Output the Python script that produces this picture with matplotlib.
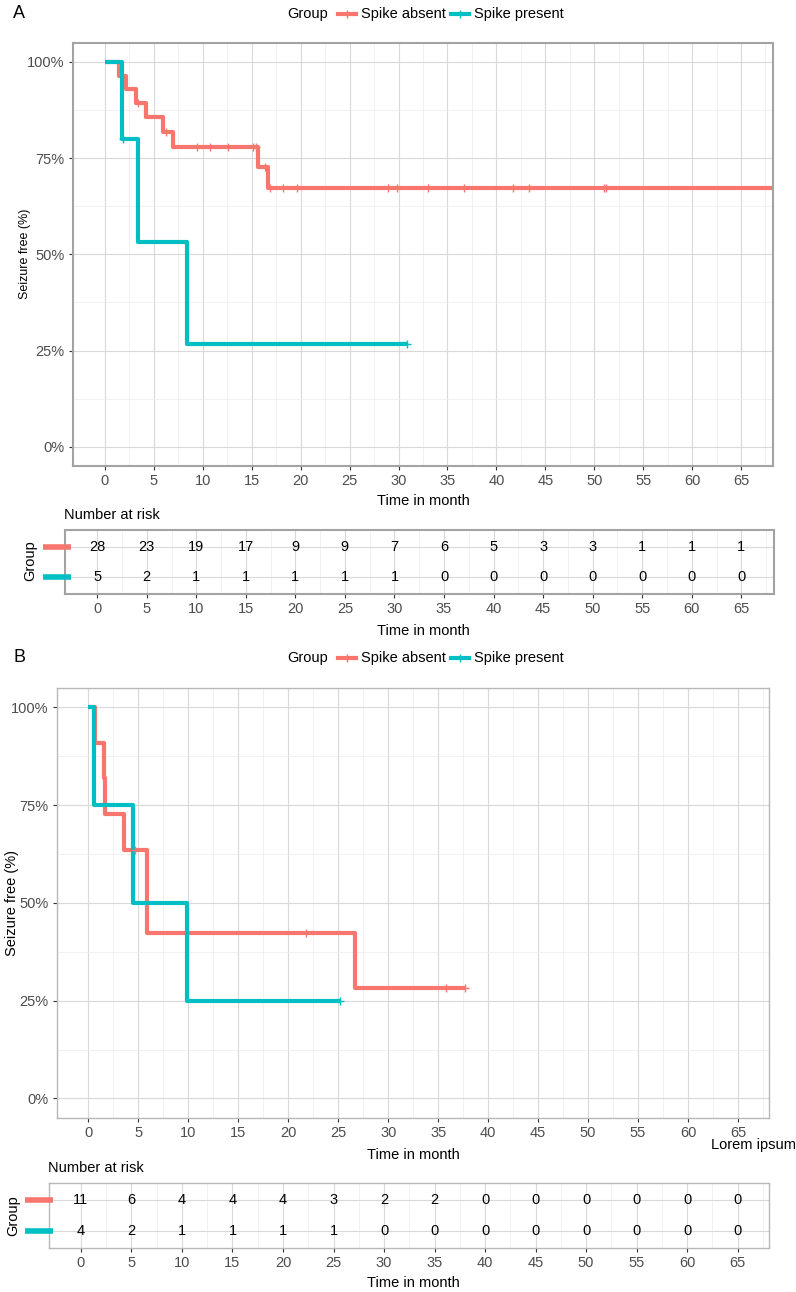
import numpy as np
import matplotlib
matplotlib.use("Agg")
from matplotlib import pyplot as plt
from matplotlib import transforms
from matplotlib.lines import Line2D

plt.rcParams['font.family'] = ['Liberation Sans', 'DejaVu Sans']

W, H = 796, 1292
RED = '#F8766D'
TEAL = '#00BFC4'

# Panel A: Kaplan-Meier steps
a_absent_time = [0, 1.43, 2.1, 3.2, 4.15, 5.9, 6.95, 15.68, 16.7, 68.6]
a_absent_surv = [1.0, 0.964, 0.929, 0.893, 0.856, 0.819, 0.780, 0.728, 0.672, 0.672]
a_absent_cens = [3.35, 6.2, 9.37, 10.74, 12.55, 15.17, 15.44, 16.36, 16.9, 18.2,
                 19.6, 28.9, 29.8, 33.0, 36.7, 41.7, 43.3, 50.95, 51.2, 68.5]
a_present_time = [0, 1.75, 3.4, 8.35, 30.85]
a_present_surv = [1.0, 0.80, 0.533, 0.267, 0.267]
a_present_cens = [1.8, 30.85]

# Panel B
b_absent_time = [0, 0.7, 1.55, 1.7, 3.6, 5.84, 26.7, 37.7]
b_absent_surv = [1.0, 0.909, 0.818, 0.727, 0.636, 0.424, 0.283, 0.283]
b_absent_cens = [4.67, 21.8, 35.8, 37.7]
b_present_time = [0, 0.6, 4.45, 9.9, 25.2]
b_present_surv = [1.0, 0.75, 0.50, 0.25, 0.25]
b_present_cens = [25.2]

# Number at risk tables
risk_times = list(range(0, 70, 5))
a_risk_absent = [28, 23, 19, 17, 9, 9, 7, 6, 5, 3, 3, 1, 1, 1]
a_risk_present = [5, 2, 1, 1, 1, 1, 1, 0, 0, 0, 0, 0, 0, 0]
b_risk_absent = [11, 6, 4, 4, 4, 3, 2, 2, 0, 0, 0, 0, 0, 0]
b_risk_present = [4, 2, 1, 1, 1, 1, 0, 0, 0, 0, 0, 0, 0, 0]

group_labels = ['Spike absent', 'Spike present']
y_ticks = [0, 0.25, 0.5, 0.75, 1.0]
y_tick_labels = ['0%', '25%', '50%', '75%', '100%']


def rect(left, top, right, bottom):
    return [left / W, 1 - bottom / H, (right - left) / W, (bottom - top) / H]


def fx(x):
    return x / W


def fy(y):
    return 1 - y / H


def style_axes(ax, frame_color, frame_lw):
    ax.set_facecolor('white')
    for s in ax.spines.values():
        s.set_color(frame_color)
        s.set_linewidth(frame_lw)
        s.set_zorder(5)
    ax.tick_params(axis='both', colors='#333333', labelcolor='#4D4D4D',
                   labelsize=10.5, length=3, width=0.8, pad=3)
    ax.set_xticks(risk_times)
    ax.set_xticks(np.arange(2.5, 70, 5), minor=True)
    ax.tick_params(which='minor', length=0)
    ax.grid(which='major', color='#D9D9D9', lw=0.8, zorder=0)
    ax.grid(which='minor', color='#EBEBEB', lw=0.5, zorder=0)
    ax.set_axisbelow(True)


def step_level(times, surv, t):
    idx = np.searchsorted(times, t, side='right') - 1
    return np.array(surv)[idx]


def km_panel(ax, curves, xlim, frame_color, frame_lw):
    style_axes(ax, frame_color, frame_lw)
    for times, surv, cens, color in curves:
        ax.step(times, surv, where='post', color=color, lw=3, zorder=3,
                solid_capstyle='butt')
        ax.plot(cens, step_level(times, surv, cens), ls='none', marker='+',
                ms=6, mew=1.0, color=color, zorder=4)
    ax.set_xlim(*xlim)
    ax.set_ylim(-0.05, 1.05)
    ax.set_yticks(y_ticks)
    ax.set_yticklabels(y_tick_labels)
    ax.set_yticks([0.125, 0.375, 0.625, 0.875], minor=True)


def risk_table(ax, rows, xlim, frame_color, frame_lw, swatch):
    style_axes(ax, frame_color, frame_lw)
    ax.set_xlim(*xlim)
    ax.set_ylim(0.42, 2.58)
    ax.set_yticks([1, 2])
    ax.set_yticklabels([])
    ax.tick_params(axis='y', length=0)
    for ypos, values in rows:
        for t, v in zip(risk_times, values):
            ax.text(t, ypos, str(v), ha='center', va='center', fontsize=10.5,
                    color='black')
    # coloured bars in place of the row labels
    trans = transforms.blended_transform_factory(ax.transAxes, ax.transData)
    for ypos, color in [(2, RED), (1, TEAL)]:
        ax.add_line(Line2D(swatch, [ypos, ypos], transform=trans, color=color,
                           lw=4, clip_on=False, solid_capstyle='butt',
                           zorder=6))


def legend_row(fig, y):
    fig.text(fx(287), fy(y), 'Group', fontsize=10.5, va='center', ha='left')
    for x0, x1, tx, color, lab in [(338, 356, 361, RED, group_labels[0]),
                                   (451, 469, 474, TEAL, group_labels[1])]:
        fig.add_artist(Line2D([fx(x0), fx(x1)], [fy(y), fy(y)],
                              transform=fig.transFigure, color=color, lw=3))
        fig.add_artist(Line2D([fx((x0 + x1) / 2)], [fy(y)], marker='+', ms=6,
                              mew=1.0, transform=fig.transFigure, color=color))
        fig.text(fx(tx), fy(y), lab, fontsize=10.5, va='center', ha='left')


fig = plt.figure(figsize=(W / 100, H / 100), dpi=100)

# ---------- Panel A ----------
xlim_a = (-3.3, 68.3)
ax_a = fig.add_axes(rect(72.7, 42.7, 773.3, 466))
km_panel(ax_a,
         [(a_absent_time, a_absent_surv, a_absent_cens, RED),
          (a_present_time, a_present_surv, a_present_cens, TEAL)],
         xlim_a, '#A3A3A3', 1.5)
fig.text(fx(13), fy(14), 'A', fontsize=13, va='center', ha='left')
legend_row(fig, 14)
fig.text(fx(25), fy(254), 'Seizure free (%)', fontsize=9, rotation=90,
         va='center', ha='center')
fig.text(fx(423), fy(501), 'Time in month', fontsize=10.5, va='center',
         ha='center')

ax_at = fig.add_axes(rect(64.5, 530, 774, 594))
risk_table(ax_at, [(2, a_risk_absent), (1, a_risk_present)], xlim_a,
           '#A3A3A3', 1.5, [(43 - 64.5) / 709.5, (71 - 64.5) / 709.5])
fig.text(fx(64.5), fy(515), 'Number at risk', fontsize=10.5, va='center',
         ha='left')
fig.text(fx(30), fy(561), 'Group', fontsize=10.5, rotation=90, va='center',
         ha='center')
fig.text(fx(423), fy(631), 'Time in month', fontsize=10.5, va='center',
         ha='center')

# ---------- Panel B ----------
xlim_b = (-3.16, 68.1)
ax_b = fig.add_axes(rect(56.7, 687.7, 769, 1118))
km_panel(ax_b,
         [(b_absent_time, b_absent_surv, b_absent_cens, RED),
          (b_present_time, b_present_surv, b_present_cens, TEAL)],
         xlim_b, '#B8B8B8', 1.0)
fig.text(fx(13), fy(657), 'B', fontsize=13, va='center', ha='left')
legend_row(fig, 658)
fig.text(fx(12), fy(903), 'Seizure free (%)', fontsize=10.5, rotation=90,
         va='center', ha='center')
fig.text(fx(413), fy(1155), 'Time in month', fontsize=10.5, va='center',
         ha='center')
fig.text(fx(796), fy(1145), 'Lorem ipsum', fontsize=10.5, va='center',
         ha='right')

ax_bt = fig.add_axes(rect(49, 1183, 769, 1248))
risk_table(ax_bt, [(2, b_risk_absent), (1, b_risk_present)], xlim_b,
           '#B8B8B8', 1.0, [(25 - 49) / 720, (53 - 49) / 720])
fig.text(fx(48), fy(1168), 'Number at risk', fontsize=10.5, va='center',
         ha='left')
fig.text(fx(13), fy(1216), 'Group', fontsize=10.5, rotation=90, va='center',
         ha='center')
fig.text(fx(413), fy(1283), 'Time in month', fontsize=10.5, va='center',
         ha='center')

fig.savefig('out.png', dpi=100)
